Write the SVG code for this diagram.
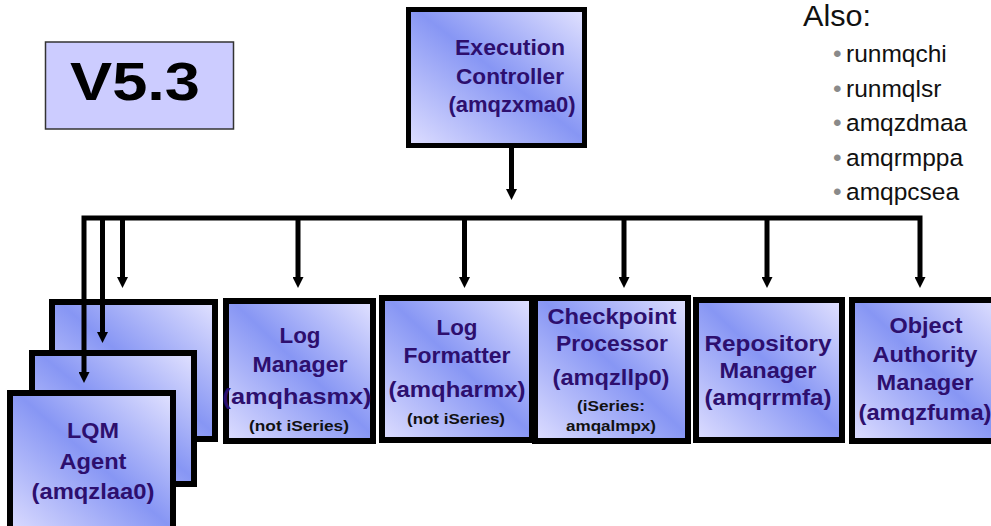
<svg xmlns="http://www.w3.org/2000/svg" width="991" height="526" viewBox="0 0 991 526">
  <defs>
    <!-- diagonal light-blue-light fill used by every process box -->
    <linearGradient id="boxFill" x1="1" y1="0" x2="0" y2="1">
      <stop offset="0" stop-color="#e2e2ff"/>
      <stop offset="0.48" stop-color="#8796f4"/>
      <stop offset="1" stop-color="#dedeff"/>
    </linearGradient>
    <marker id="arrow" viewBox="0 0 10 10" refX="3" refY="5" markerWidth="11" markerHeight="11" markerUnits="userSpaceOnUse" orient="auto-start-reverse">
      <path d="M0,0 L10,5 L0,10 z" fill="#000"/>
    </marker>
  </defs>
  <style>
    .box{fill:url(#boxFill);stroke:#000;stroke-width:6}
    .top{stroke-width:5}
    .lbl{font-family:"Liberation Sans",Arial,sans-serif;font-weight:bold;font-size:22px;fill:#2d0f6e;text-anchor:middle}
    .note{font-family:"Liberation Sans",Arial,sans-serif;font-weight:bold;font-size:15.5px;fill:#111;text-anchor:middle}
    .wire{fill:none;stroke:#000;stroke-width:5;stroke-linejoin:miter;marker-end:url(#arrow)}
    .plain{font-family:"Liberation Sans",Arial,sans-serif;fill:#111}
    .bul{fill:#8a8a8a}
  </style>
  <rect width="991" height="526" fill="#fff"/>

  <!-- version badge -->
  <g id="version">
    <rect x="45.5" y="42" width="188" height="87" fill="#ccccff" stroke="#333" stroke-width="1.5"/>
    <text x="135" y="100" font-family="'Liberation Sans',Arial,sans-serif" font-weight="bold" font-size="53" text-anchor="middle" fill="#000" textLength="130" lengthAdjust="spacingAndGlyphs">V5.3</text>
  </g>

  <!-- other processes list -->
  <g id="also-list" class="plain">
    <text x="803" y="26" font-size="29" textLength="68" lengthAdjust="spacingAndGlyphs">Also:</text>
    <text font-size="24.5"><tspan class="bul" x="833" y="62">•</tspan><tspan x="846" y="62">runmqchi</tspan></text>
    <text font-size="24.5"><tspan class="bul" x="833" y="96.5">•</tspan><tspan x="846" y="96.5">runmqlsr</tspan></text>
    <text font-size="24.5"><tspan class="bul" x="833" y="131">•</tspan><tspan x="846" y="131">amqzdmaa</tspan></text>
    <text font-size="24.5"><tspan class="bul" x="833" y="165.5">•</tspan><tspan x="846" y="165.5">amqrmppa</tspan></text>
    <text font-size="24.5"><tspan class="bul" x="833" y="200">•</tspan><tspan x="846" y="200">amqpcsea</tspan></text>
  </g>

  <g id="exec-controller">
    <rect class="box top" x="408.5" y="9.5" width="176" height="136"/>
    <text class="lbl" x="510" y="55" textLength="110" lengthAdjust="spacingAndGlyphs">Execution</text>
    <text class="lbl" x="510" y="84" textLength="108" lengthAdjust="spacingAndGlyphs">Controller</text>
    <text class="lbl" x="512" y="112" textLength="127" lengthAdjust="spacingAndGlyphs">(amqzxma0)</text>
  </g>

  <!-- stacked LQM agent instances, back to front -->
  <g id="lqm-agent-3">
    <rect class="box" x="52" y="302" width="163" height="137"/>
  </g>
  <g id="lqm-agent-2">
    <rect class="box" x="32" y="353" width="162" height="131"/>
  </g>
  <g id="lqm-agent-1">
    <rect class="box" x="10" y="393" width="163" height="142"/>
    <text class="lbl" x="93" y="438" textLength="52" lengthAdjust="spacingAndGlyphs">LQM</text>
    <text class="lbl" x="93" y="469" textLength="67" lengthAdjust="spacingAndGlyphs">Agent</text>
    <text class="lbl" x="93" y="499" textLength="123" lengthAdjust="spacingAndGlyphs">(amqzlaa0)</text>
  </g>

  <g id="log-manager">
    <rect class="box" x="226" y="301" width="147" height="140"/>
    <text class="lbl" x="300" y="343" textLength="41" lengthAdjust="spacingAndGlyphs">Log</text>
    <text class="lbl" x="300" y="372" textLength="95" lengthAdjust="spacingAndGlyphs">Manager</text>
    <text class="lbl" x="297" y="404" textLength="149" lengthAdjust="spacingAndGlyphs">(amqhasmx)</text>
    <text class="note" x="299" y="431" textLength="100" lengthAdjust="spacingAndGlyphs">(not iSeries)</text>
  </g>

  <g id="log-formatter">
    <rect class="box" x="382" y="298" width="150" height="142"/>
    <text class="lbl" x="457" y="335" textLength="41" lengthAdjust="spacingAndGlyphs">Log</text>
    <text class="lbl" x="457" y="363" textLength="107" lengthAdjust="spacingAndGlyphs">Formatter</text>
    <text class="lbl" x="457" y="397" textLength="137" lengthAdjust="spacingAndGlyphs">(amqharmx)</text>
    <text class="note" x="456" y="424" textLength="98" lengthAdjust="spacingAndGlyphs">(not iSeries)</text>
  </g>

  <g id="checkpoint">
    <rect class="box" x="535" y="298" width="153" height="143"/>
    <text class="lbl" x="612" y="324" textLength="129" lengthAdjust="spacingAndGlyphs">Checkpoint</text>
    <text class="lbl" x="612" y="351" textLength="112" lengthAdjust="spacingAndGlyphs">Processor</text>
    <text class="lbl" x="611" y="385" textLength="117" lengthAdjust="spacingAndGlyphs">(amqzllp0)</text>
    <text class="note" x="611" y="411" textLength="68" lengthAdjust="spacingAndGlyphs">(iSeries:</text>
    <text class="note" x="611" y="431" textLength="90" lengthAdjust="spacingAndGlyphs">amqalmpx)</text>
  </g>

  <g id="repository">
    <rect class="box" x="696" y="300" width="146" height="140"/>
    <text class="lbl" x="768" y="351" textLength="127" lengthAdjust="spacingAndGlyphs">Repository</text>
    <text class="lbl" x="768" y="378" textLength="97" lengthAdjust="spacingAndGlyphs">Manager</text>
    <text class="lbl" x="768" y="405" textLength="127" lengthAdjust="spacingAndGlyphs">(amqrrmfa)</text>
  </g>

  <g id="object-authority">
    <rect class="box" x="852" y="300" width="148" height="141"/>
    <text class="lbl" x="926" y="333" textLength="73" lengthAdjust="spacingAndGlyphs">Object</text>
    <text class="lbl" x="925" y="362" textLength="105" lengthAdjust="spacingAndGlyphs">Authority</text>
    <text class="lbl" x="925" y="390" textLength="97" lengthAdjust="spacingAndGlyphs">Manager</text>
    <text class="lbl" x="925" y="420" textLength="133" lengthAdjust="spacingAndGlyphs">(amqzfuma)</text>
  </g>

  <!-- controller fan-out bus -->
  <g id="connectors">
    <path class="wire" d="M511.5,148 V192.3"/>
    <path class="wire" d="M84,375.3 V218 H920 V280.3" marker-start="url(#arrow)"/>
    <path class="wire" d="M102.5,218 V335.3"/>
    <path class="wire" d="M122.5,218 V280.3"/>
    <path class="wire" d="M298,218 V280.3"/>
    <path class="wire" d="M464.5,218 V280.3"/>
    <path class="wire" d="M624,218 V280.3"/>
    <path class="wire" d="M767,218 V280.3"/>
  </g>
</svg>
